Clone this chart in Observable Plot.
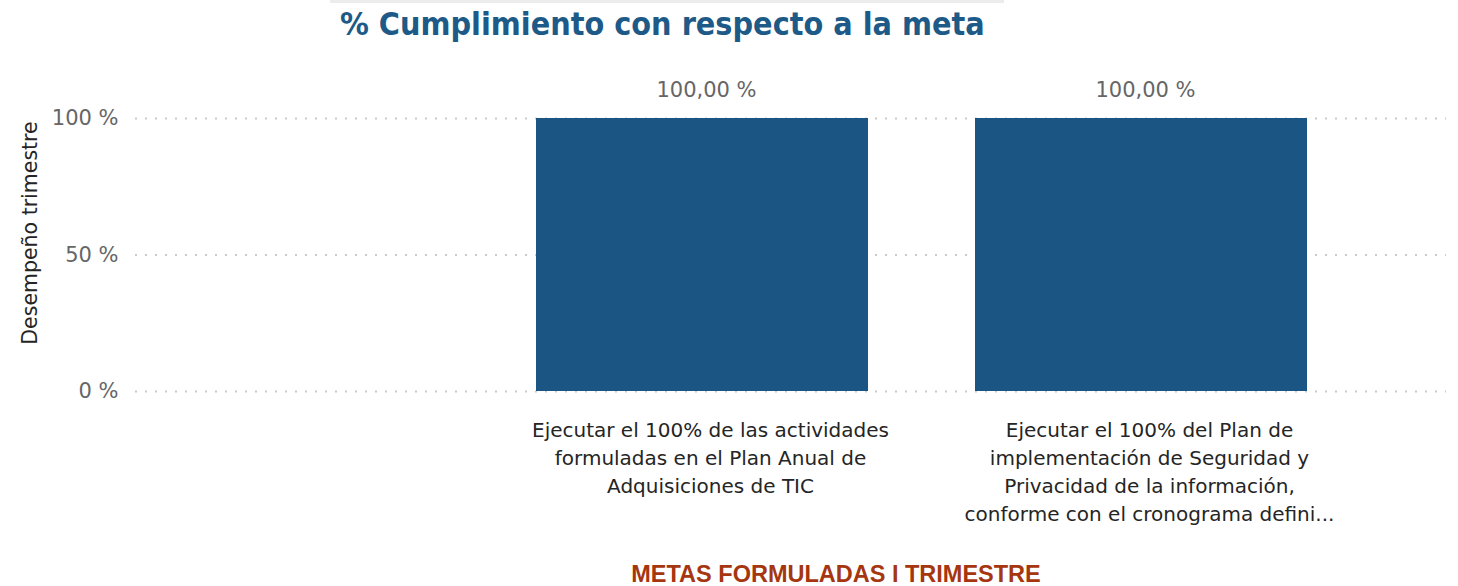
<!DOCTYPE html>
<html>
<head>
<meta charset="utf-8">
<script src="https://cdn.jsdelivr.net/npm/d3@7"></script>
<script src="https://cdn.jsdelivr.net/npm/@observablehq/plot@0.6"></script>
<style>
  html, body { margin: 0; padding: 0; background: #fff; }
  #wrap { position: relative; width: 1458px; height: 586px; overflow: hidden; }
  #topbar { position: absolute; left: 330px; top: 0; width: 674px; height: 3px; background: #ececec; }
  #title { position: absolute; left: 340px; top: 5px; font-family: "DejaVu Sans Condensed", "DejaVu Sans", sans-serif; font-stretch: condensed; font-weight: bold; font-size: 32px; color: #1d5a87; white-space: nowrap; }
  #xtitle { position: absolute; left: 0; width: 1672px; top: 561px; text-align: center; font-family: "Liberation Sans", Arial, sans-serif; font-weight: bold; font-size: 23.5px; color: #a5360f; white-space: nowrap; }
  #chart { position: absolute; left: 0; top: 0; }
</style>
</head>
<body>
<div id="wrap">
  <div id="chart"></div>
  <div id="topbar"></div>
  <div id="title">% Cumplimiento con respecto a la meta</div>
  <div id="xtitle">METAS FORMULADAS I TRIMESTRE</div>
</div>
<script>
const categories = [
  "Ejecutar el 100% de las actividades\nformuladas en el Plan Anual de\nAdquisiciones de TIC",
  "Ejecutar el 100% del Plan de\nimplementación de Seguridad y\nPrivacidad de la información,\nconforme con el cronograma defini..."
];
const values = [100, 100];
const yTicks = [0, 50, 100];
const yLabel = "Desempeño trimestre";

const data = categories.map((c, i) => ({cat: c, val: values[i]}));
const font = "'DejaVu Sans', sans-serif";

const chart = Plot.plot({
  width: 1458,
  height: 586,
  marginLeft: 135,
  marginRight: 12,
  marginTop: 118,
  marginBottom: 195,
  style: {fontFamily: font, background: "transparent"},
  x: {domain: categories, range: [535, 1308], paddingInner: 0.243, paddingOuter: 0},
  y: {domain: [0, 100], ticks: yTicks},
  marks: [
    Plot.ruleY(yTicks, {stroke: "#cacaca", strokeWidth: 2, strokeDasharray: "2,8"}),
    Plot.barY(data, {x: "cat", y: "val", fill: "#1a5583"}),
    Plot.text(data, {x: "cat", y: "val", text: d => d3.format(".2f")(d.val).replace(".", ",") + " %", dy: -28, dx: 4, fill: "#666", fontSize: 21}),
    Plot.axisY({ticks: yTicks, tickSize: 0, tickPadding: 17, tickFormat: d => d + " %", fontSize: 21, color: "#666", label: null}),
    Plot.axisX({tickSize: 0, tickPadding: 26, dx: 8, fontSize: 20, lineHeight: 1.4, color: "#252525", label: null}),
    Plot.text([yLabel], {frameAnchor: "left", textAnchor: "middle", dx: -105, dy: -22, rotate: -90, fontSize: 20.5, fill: "#252525"})
  ]
});
document.getElementById("chart").appendChild(chart);
</script>
</body>
</html>
